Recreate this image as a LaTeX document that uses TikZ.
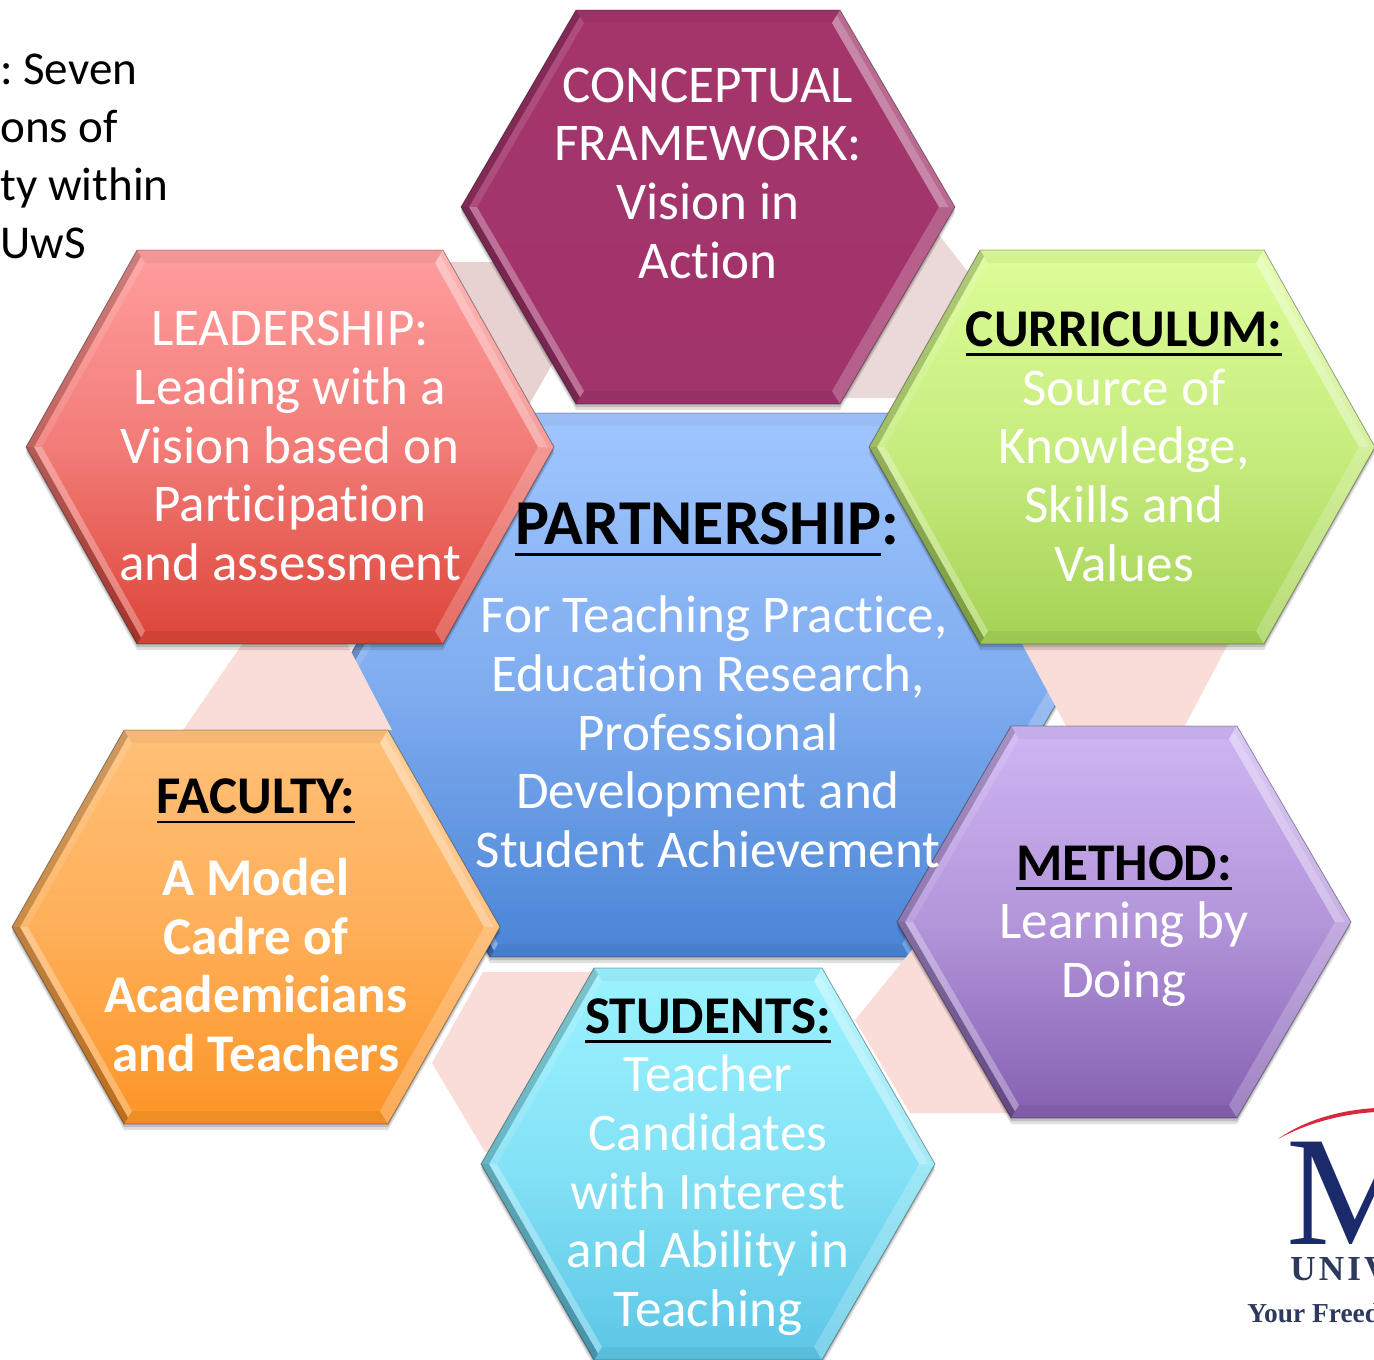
\documentclass[tikz,border=0pt]{standalone}
\usepackage{fontspec}
\setmainfont[Ligatures=NoCommon]{Carlito}
\newfontfamily\logofont{Liberation Serif}
\newfontfamily\logowide[LetterSpace=9]{Liberation Serif}
\usetikzlibrary{calc}
\definecolor{pale_one}{HTML}{E7D1D1}
\definecolor{pale_two}{HTML}{FADCD8}
\definecolor{logo_navy}{HTML}{1B2A6B}
\definecolor{logo_grey}{HTML}{2D3A5E}
\definecolor{logo_red}{HTML}{D8283C}
\definecolor{P_top}{HTML}{A0C6FF}
\definecolor{P_bot}{HTML}{4A84D6}
\definecolor{C_top}{HTML}{A3356B}
\definecolor{C_bot}{HTML}{A1346B}
\definecolor{L_top}{HTML}{FF9E9E}
\definecolor{L_bot}{HTML}{DC4438}
\definecolor{K_top}{HTML}{DDFD98}
\definecolor{K_bot}{HTML}{A4D255}
\definecolor{M_top}{HTML}{CFB6F4}
\definecolor{M_bot}{HTML}{8560B0}
\definecolor{F_top}{HTML}{FFC078}
\definecolor{F_bot}{HTML}{FD9427}
\definecolor{S_top}{HTML}{9CF3FF}
\definecolor{S_bot}{HTML}{5CC6E6}
\newsavebox{\headbox}
\newcommand{\ruled}[1]{\sbox{\headbox}{#1}\leavevmode\rlap{\rule[-0.18em]{\wd\headbox}{1.5pt}}\usebox{\headbox}}
\newcommand{\headword}[1]{\textcolor{black}{\textbf{\ruled{#1}}}}
\newcommand{\hexcell}[7]{%
  \begin{scope}[shift={(#1,#2)}]
    \coordinate (a) at (-#3,0);  \coordinate (b) at (-#4,-#5);
    \coordinate (c) at (#4,-#5); \coordinate (d) at (#3,0);
    \coordinate (e) at (#4,#5);  \coordinate (f) at (-#4,#5);
    \coordinate (A) at (-#3+16,0);  \coordinate (B) at (-#4+8,-#5+13);
    \coordinate (C) at (#4-8,-#5+13); \coordinate (D) at (#3-16,0);
    \coordinate (E) at (#4-8,#5-13);  \coordinate (F) at (-#4+8,#5-13);
    \fill[black, opacity=.12] ($(a)+(0,6)$) -- ($(b)+(0,6)$) -- ($(c)+(0,6)$)
      -- ($(d)+(0,6)$) -- ($(e)+(0,6)$) -- ($(f)+(0,6)$) -- cycle;
    \fill[black, opacity=.15] ($(a)+(0,3)$) -- ($(b)+(0,3)$) -- ($(c)+(0,3)$)
      -- ($(d)+(0,3)$) -- ($(e)+(0,3)$) -- ($(f)+(0,3)$) -- cycle;
    \shade[top color=#6, bottom color=#7, middle color=#6!62!#7]
      (a) -- (b) -- (c) -- (d) -- (e) -- (f) -- cycle;
    % bevel: upper left and lower left dark outside, lit inside
    \fill[black, opacity=.26] (f) -- (a) -- ($(a)!.5!(A)$) -- ($(f)!.5!(F)$) -- cycle;
    \fill[white, opacity=.3] ($(f)!.5!(F)$) -- ($(a)!.5!(A)$) -- (A) -- (F) -- cycle;
    \fill[black, opacity=.2] (a) -- (b) -- ($(b)!.5!(B)$) -- ($(a)!.5!(A)$) -- cycle;
    \fill[white, opacity=.12] ($(a)!.5!(A)$) -- ($(b)!.5!(B)$) -- (B) -- (A) -- cycle;
    % bevel: top and bottom nearly flat
    \fill[black, opacity=.05] (e) -- (f) -- (F) -- (E) -- cycle;
    \fill[black, opacity=.04] (b) -- (c) -- (C) -- (B) -- cycle;
    % bevel: right side lit
    \fill[white, opacity=.22] (d) -- (e) -- (E) -- (D) -- cycle;
    \fill[white, opacity=.26] (c) -- (d) -- (D) -- (C) -- cycle;
    \fill[white, opacity=.2] ($(c)!.4!(C)$) -- ($(d)!.4!(D)$) -- (D) -- (C) -- cycle;
    \draw[black, opacity=.35, line width=.5pt] (a) -- (b) -- (c) -- (d) -- (e) -- (f) -- cycle;
  \end{scope}}

\begin{document}
\begin{tikzpicture}[x=0.02cm, y=-0.02cm,
    every node/.style={inner sep=0pt, align=center, text=white,
                       font=\fontsize{30.2}{33.4}\selectfont},
    note/.style={text=black, align=left, anchor=north west,
                 font=\fontsize{26.8}{33}\selectfont},
    bold/.style={font=\fontsize{30.2}{33.4}\selectfont\bfseries}]
  \clip (0,0) rectangle (1374,1360);
  \fill[white] (0,0) rectangle (1374,1360);

  \hexcell{700}{685}{367}{210}{272}{P_top}{P_bot}

  % pale pieces between the cells
  \fill[pale_one] (440,262) -- (500,262) -- (560,352) -- (550,368) -- (526,410) -- (440,300) -- cycle;
  \fill[pale_one!85!white] (935,230) -- (968,272) -- (900,398) -- (840,398) -- cycle;
  \fill[pale_two] (1021,642) -- (1228,644) -- (1180,735) -- (1071,735) -- cycle;
  \fill[pale_two] (920,940) -- (855,1020) -- (910,1113) -- (1020,1113) -- (1020,940) -- cycle;
  \fill[pale_two] (483,972) -- (600,972) -- (600,1152) -- (485,1152) -- (432,1063) -- cycle;
  \fill[pale_two] (245,640) -- (183,730) -- (392,730) -- (345,640) -- cycle;

  \hexcell{708}{207}{247}{132}{197}{C_top}{C_bot}
  \hexcell{290}{447}{264}{153}{197}{L_top}{L_bot}
  \hexcell{1122}{447}{253}{142}{197}{K_top}{K_bot}
  \hexcell{1124}{922}{227}{113}{196}{M_top}{M_bot}
  \hexcell{256}{927}{244}{132}{197}{F_top}{F_bot}
  \hexcell{708}{1164}{227}{114}{196}{S_top}{S_bot}

  \node[note] (caption) at (0,54) {:\hspace{.22em}Seven\\ons of\\ty within\\UwS};

  \node (conceptual) at (708,173) {CONCEPTUAL\\FRAMEWORK:\\Vision in\\Action};
  \node (leadership) at (290,446) {LEADERSHIP:\\Leading with a\\Vision based on\\Participation\\and assessment};
  \node (curriculum) at (1124,446.5) {\headword{CURRICULUM:}\\Source of\\Knowledge,\\Skills and\\Values};
  \node[font=\fontsize{36.4}{40}\selectfont] (partnerhead) at (707,529) {\textcolor{black}{\textbf{\ruled{PARTNERSHIP}:}}};
  \node (partnership) at (708,732) {\hspace*{.225em}For Teaching Practice,\\Education Research,\\Professional\\Development and\\Student Achievement};
  \node (method) at (1124,926) {\headword{METHOD:}\\Learning by\\Doing};
  \node (facultyhead) at (256,801) {\headword{FACULTY:}};
  \node[bold] (faculty) at (256,965) {A Model\\Cadre of\\Academicians\\and Teachers};
  \node (students) at (708,1167) {\headword{STUDENTS:}\\Teacher\\Candidates\\with Interest\\and Ability in\\Teaching};

  % logo, cut by the page edge
  \fill[logo_red] (1278,1139) .. controls (1305,1120) and (1340,1110) .. (1376,1108)
    -- (1376,1112) .. controls (1340,1114) and (1305,1124) .. (1278,1139) -- cycle;
  \node[anchor=base west, text=logo_navy, font=\fontsize{89}{89}\selectfont\logofont] (logomark) at (1286,1244) {M};
  \node[anchor=base west, text=logo_grey, font=\fontsize{20}{20}\selectfont\logowide\bfseries] (logoname) at (1290,1280) {UNIV};
  \node[anchor=base west, text=logo_grey, font=\fontsize{15.6}{16}\selectfont\logofont\bfseries] (logotag) at (1247,1322) {Your Freed};
\end{tikzpicture}
\end{document}
